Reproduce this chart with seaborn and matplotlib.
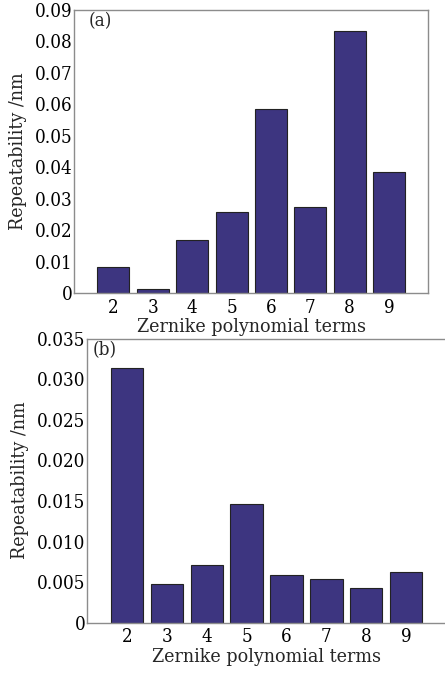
import matplotlib
matplotlib.use("Agg")
import matplotlib.pyplot as plt
import seaborn as sns
import pandas as pd

# Zernike polynomial terms and measured repeatability (nm)
terms = ["2", "3", "4", "5", "6", "7", "8", "9"]
repeat_a = [0.0084, 0.0012, 0.0168, 0.0257, 0.0585, 0.0275, 0.0834, 0.0386]
repeat_b = [0.0314, 0.0048, 0.0071, 0.0146, 0.0059, 0.0054, 0.0043, 0.0063]

yticks_a = [0, 0.01, 0.02, 0.03, 0.04, 0.05, 0.06, 0.07, 0.08, 0.09]
ytick_labels_a = ["0", "0.01", "0.02", "0.03", "0.04", "0.05", "0.06", "0.07", "0.08", "0.09"]
yticks_b = [0, 0.005, 0.010, 0.015, 0.020, 0.025, 0.030, 0.035]
ytick_labels_b = ["0", "0.005", "0.010", "0.015", "0.020", "0.025", "0.030", "0.035"]

sns.set_theme(style="white")
plt.rcParams["font.family"] = ["DejaVu Serif"]
plt.rcParams["font.stretch"] = "condensed"

bar_color = "#3d3580"
spine_color = "#8c8c8c"

fig = plt.figure(figsize=(4.45, 6.73), dpi=100)
ax_a = fig.add_axes([0.1663, 0.5646, 0.7966, 0.4205])
ax_b = fig.add_axes([0.1955, 0.0747, 0.8070, 0.4222])


def draw_panel(ax, values, yticks, ylabels, tag, tag_x, ymax):
    df = pd.DataFrame({"term": terms, "value": values})
    sns.barplot(data=df, x="term", y="value", ax=ax, color=bar_color,
                saturation=1, width=0.81, edgecolor="#222222", linewidth=0.8)
    ax.set_xlim(-1, 8)
    ax.set_ylim(0, ymax)
    ax.set_yticks(yticks)
    ax.set_yticklabels(ylabels)
    ax.tick_params(axis="both", length=0, labelsize=13.5, colors="black")
    ax.tick_params(axis="y", pad=1)
    ax.tick_params(axis="x", pad=4)
    ax.set_xlabel("Zernike polynomial terms", fontsize=14, labelpad=1)
    ax.set_ylabel("Repeatability /nm", fontsize=14, labelpad=6)
    for s in ax.spines.values():
        s.set_color(spine_color)
        s.set_linewidth(1.0)
    ax.text(tag_x, 0.96, tag, transform=ax.transAxes, fontsize=13.5,
            ha="left", va="center")


draw_panel(ax_a, repeat_a, yticks_a, ytick_labels_a, "(a)", 0.04, 0.09)
draw_panel(ax_b, repeat_b, yticks_b, ytick_labels_b, "(b)", 0.017, 0.035)

fig.savefig("out.png", dpi=100)
